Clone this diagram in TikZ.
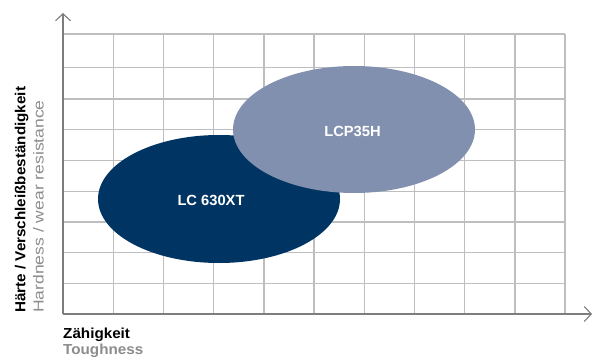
\documentclass[tikz,border=0pt]{standalone}
\usepackage{fontspec}
\setmainfont{Liberation Sans}
\usetikzlibrary{arrows.meta}
\definecolor{darkblue}{RGB}{0,52,98}
\definecolor{lightblue}{RGB}{130,144,176}
\definecolor{gridgray}{RGB}{190,190,193}
\definecolor{axisgray}{RGB}{125,125,128}
\definecolor{labelgray}{RGB}{140,140,140}
\tikzset{
  gridline/.style={draw=gridgray, line width=1.4pt},
  axisline/.style={draw=axisgray, line width=1.2pt, -{Straight Barb[length=7pt,width=15pt,line width=1.1pt]}},
  bloblabel/.style={text=white, font=\bfseries\fontsize{14.7}{16}\selectfont},
  axlabel/.style={font=\bfseries\fontsize{14.5}{16}\selectfont, inner sep=0pt, anchor=base west},
}
\begin{document}
\begin{tikzpicture}[x=1pt, y=-1pt]
\useasboundingbox (0,0) rectangle (593,358);
% grid
\foreach \yy in {34,67.7,99,129.8,160.5,191.2,221.9,252.6,283.3}
  \draw[gridline] (63,\yy) -- (565,\yy);
\foreach \xx in {113.2,163.4,213.6,263.8,314,364.2,414.4,464.6,514.8,565}
  \draw[gridline] (\xx,34) -- (\xx,314);
% axes
\coordinate (O) at (63,314);
\coordinate (ytip) at (63,13);
\coordinate (xtip) at (592,314);
\draw[axisline] (O) -- (ytip);
\draw[axisline] (O) -- (xtip);
% ellipses
\fill[darkblue] (219,199) ellipse [x radius=121, y radius=64];
\node[bloblabel] (lc) at (211,200) {LC 630XT};
\fill[lightblue] (354,129.5) ellipse [x radius=121, y radius=63.5];
\node[bloblabel] (lcp) at (352.5,131) {LCP35H};
% axis labels
\node[axlabel] (zh) at (63,338.3) {\scalebox{1.05}[1]{Zähigkeit}};
\node[axlabel, text=labelgray] (tg) at (63,354) {\scalebox{1.05}[1]{Toughness}};
\node[axlabel, rotate=90] (ht) at (25.3,313) {\scalebox{1.05}[1]{Härte / Verschleißbeständigkeit}};
\node[axlabel, rotate=90, text=labelgray, font=\fontsize{14.5}{16}\selectfont] (hw) at (43.5,313) {\scalebox{1.21}[1]{Hardness / wear resistance}};
\end{tikzpicture}
\end{document}
